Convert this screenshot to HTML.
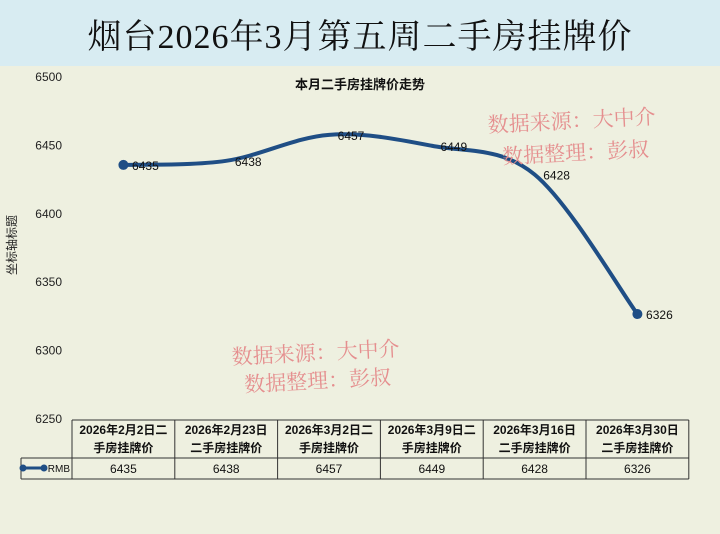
<!DOCTYPE html>
<html><head><meta charset="utf-8"><style>
body{margin:0;width:720px;height:534px;overflow:hidden;background:#eef0e0;font-family:"Liberation Sans","Noto Sans CJK SC",sans-serif;}
#title{position:absolute;left:0;top:0;width:720px;height:66px;background:#d8ecf2;text-align:center;font:34px/76px "Liberation Serif","Noto Serif CJK SC",serif;color:#111;letter-spacing:1px;}
svg{position:absolute;left:0;top:0}
</style></head><body>
<div id="title">烟台2026年3月第五周二手房挂牌价</div>
<svg width="720" height="534" id="chart"></svg>
<script>
const categories=["2026年2月2日二|手房挂牌价","2026年2月23日|二手房挂牌价","2026年3月2日二|手房挂牌价","2026年3月9日二|手房挂牌价","2026年3月16日|二手房挂牌价","2026年3月30日|二手房挂牌价"];
const values=[6435,6438,6457,6449,6428,6326];
const yTicks=[6250,6300,6350,6400,6450,6500];
const seriesName="RMB";
const NS="http://www.w3.org/2000/svg",svg=document.getElementById('chart');
function el(t,a,txt){const e=document.createElementNS(NS,t);for(const k in a)e.setAttribute(k,a[k]);if(txt!=null)e.textContent=txt;svg.appendChild(e);return e;}
const x0=72,colW=102.8;
const xs=i=>x0+colW*(i+0.5);
const ys=v=>418-(v-6250)*(342/250);
yTicks.forEach(t=>{const e=el('text',{x:62,y:ys(t)+5,'text-anchor':'end','font-size':12,fill:'#222'},t);

});
let e=el('text',{x:360,y:89,'text-anchor':'middle','font-size':13,'font-weight':'bold',fill:'#111'},'本月二手房挂牌价走势');

e=el('text',{x:16,y:245,'text-anchor':'middle','font-size':12,fill:'#222',transform:'rotate(-90 16 245)'},'坐标轴标题');

const P=values.map((v,i)=>[xs(i),ys(v)]);
let d='M'+P[0][0]+','+P[0][1];
for(let i=0;i<P.length-1;i++){const p0=P[Math.max(i-1,0)],p1=P[i],p2=P[i+1],p3=P[Math.min(i+2,P.length-1)];
d+=` C${p1[0]+(p2[0]-p0[0])/6},${p1[1]+(p2[1]-p0[1])/6} ${p2[0]-(p3[0]-p1[0])/6},${p2[1]-(p3[1]-p1[1])/6} ${p2[0]},${p2[1]}`;}
e=el('path',{d:d,fill:'none',stroke:'#1f4e85','stroke-width':4,'stroke-linecap':'round'});

[0,values.length-1].forEach(i=>{const c=el('circle',{cx:P[i][0],cy:P[i][1],r:5,fill:'#1f4e85'});
});
values.forEach((v,i)=>{const t=el('text',{x:P[i][0]+22,y:P[i][1]+5,'text-anchor':'middle','font-size':12,fill:'#111'},v);
});
[[572,128,'数据来源：大中介'],[576,160,'数据整理：彭叔'],[316,360,'数据来源：大中介'],[318,388,'数据整理：彭叔']].forEach((w,i)=>{
const t=el('text',{x:w[0],y:w[1],'text-anchor':'middle','font-size':21,fill:'#e58f8f','font-family':'Noto Serif CJK SC,serif',transform:`rotate(-3 ${w[0]} ${w[1]})`},w[2]);
});
const tTop=420,tMid=458,tBot=479,xEnd=x0+colW*6;
const g='#333';
el('line',{x1:x0,y1:tTop,x2:xEnd,y2:tTop,stroke:g});
el('line',{x1:21,y1:tMid,x2:xEnd,y2:tMid,stroke:g});
el('line',{x1:21,y1:tBot,x2:xEnd,y2:tBot,stroke:g});
el('line',{x1:21,y1:tMid,x2:21,y2:tBot,stroke:g});
for(let i=0;i<=6;i++)el('line',{x1:x0+colW*i,y1:tTop,x2:x0+colW*i,y2:tBot,stroke:g});
categories.forEach((c,i)=>{const [a,b]=c.split('|');
const t1=el('text',{x:xs(i),y:tTop+14,'text-anchor':'middle','font-size':12,'font-weight':'bold',fill:'#111'},a);

const t2=el('text',{x:xs(i),y:tTop+32,'text-anchor':'middle','font-size':12,'font-weight':'bold',fill:'#111'},b);

const t3=el('text',{x:xs(i),y:tMid+15,'text-anchor':'middle','font-size':12,fill:'#111'},values[i]);
});
el('line',{x1:23,y1:468,x2:44,y2:468,stroke:'#1f4e85','stroke-width':3});
el('circle',{cx:23,cy:468,r:3.5,fill:'#1f4e85'});el('circle',{cx:44,cy:468,r:3.5,fill:'#1f4e85'});
e=el('text',{x:70,y:472,'text-anchor':'end','font-size':10,fill:'#111'},seriesName);

</script>
</body></html>
